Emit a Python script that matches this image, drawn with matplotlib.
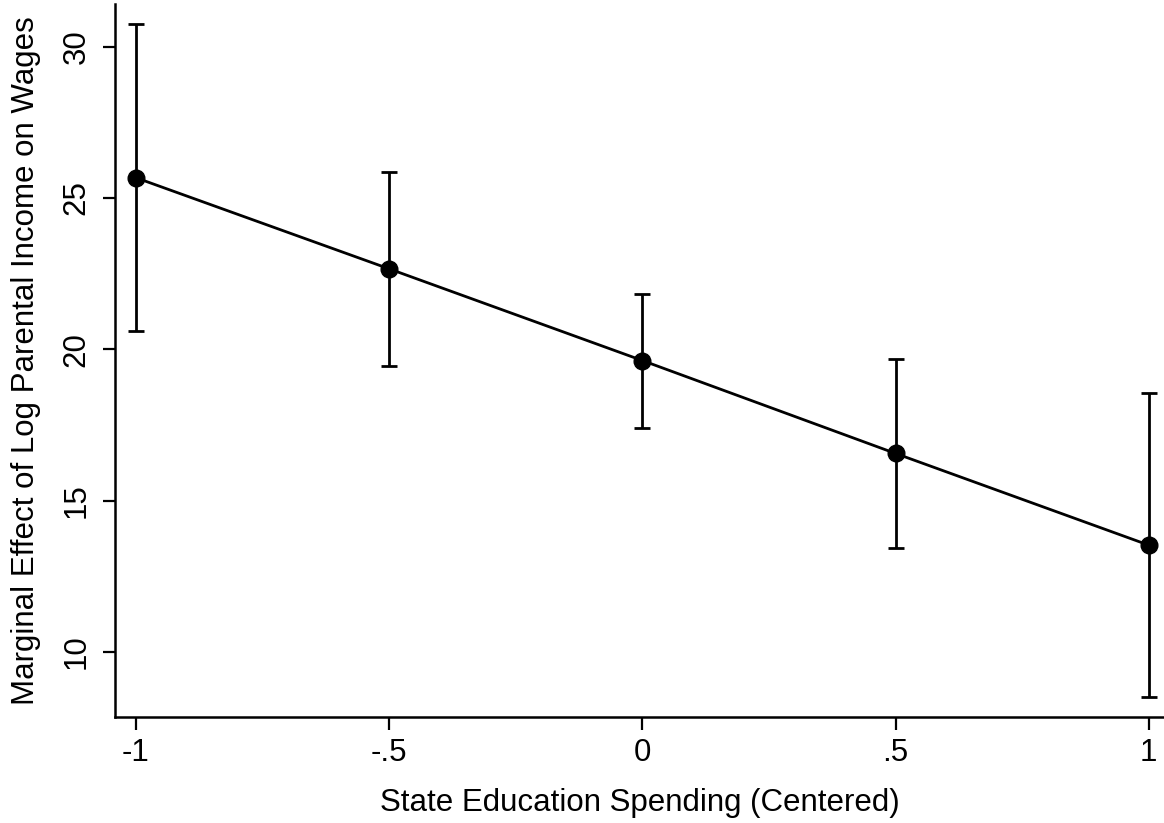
import matplotlib.pyplot as plt
import numpy as np

plt.rcParams['font.family'] = ['Liberation Sans', 'DejaVu Sans']

# marginal effects and 95% CI bounds
spending = [-1, -0.5, 0, 0.5, 1]
effect = [25.67, 22.66, 19.63, 16.56, 13.53]
upper = [30.75, 25.85, 21.84, 19.68, 18.56]
lower = [20.61, 19.46, 17.41, 13.44, 8.52]
xtick_vals = [-1, -0.5, 0, 0.5, 1]
xtick_labels = ['-1', '-.5', '0', '.5', '1']
ytick_vals = [10, 15, 20, 25, 30]

effect = np.array(effect)
yerr = [effect - np.array(lower), np.array(upper) - effect]

fig = plt.figure(figsize=(11.64, 8.23), dpi=100)
ax = fig.add_axes([0.0992, 0.1292, 0.9008, 0.8659])

ax.errorbar(spending, effect, yerr=yerr, fmt='none', ecolor='black',
            elinewidth=2.0, capsize=5.8, capthick=2.0)
ax.plot(spending, effect, color='black', linewidth=2.0, marker='o',
        markersize=12, markerfacecolor='black', markeredgecolor='black')

ax.set_xlim(-1.0405, 1.03)
ax.set_ylim(7.863, 31.41)
ax.set_xticks(xtick_vals)
ax.set_xticklabels(xtick_labels)
ax.set_yticks(ytick_vals)
ax.set_yticklabels([str(v) for v in ytick_vals], rotation=90, va='center')

for s in ['top', 'right']:
    ax.spines[s].set_visible(False)
for s in ['left', 'bottom']:
    ax.spines[s].set_linewidth(1.8)
ax.tick_params(axis='both', length=9, width=1.6, labelsize=22.5)
ax.tick_params(axis='y', pad=8)
ax.tick_params(axis='x', pad=6)

ax.set_xlabel('State Education Spending (Centered)', fontsize=22.5, labelpad=15)
ax.set_ylabel('Marginal Effect of Log Parental Income on Wages', fontsize=22.5, labelpad=15)

fig.savefig('out.png', dpi=100)
